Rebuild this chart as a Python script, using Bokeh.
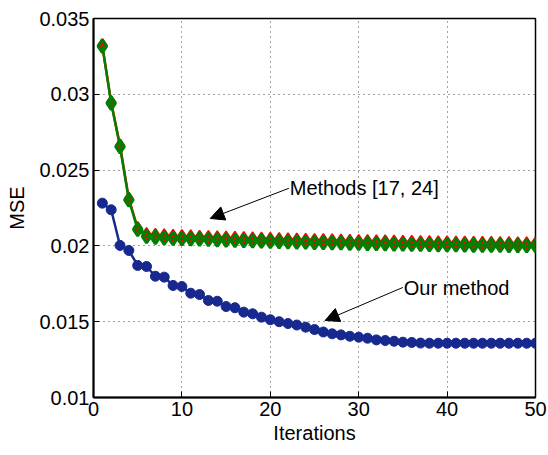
from bokeh.plotting import figure
from bokeh.models import FixedTicker, Arrow, NormalHead, Label, Range1d
from bokeh.embed import file_html
from bokeh.resources import INLINE

# Iteration index
iterations = list(range(1, 51))

# MSE of the proposed method
mse_ours = [0.02282, 0.02238, 0.02003, 0.01970, 0.01871, 0.01864, 0.01800, 0.01794, 0.01739, 0.01732,
            0.01688, 0.01679, 0.01640, 0.01635, 0.01600, 0.01592, 0.01563, 0.01552, 0.01530, 0.01513,
            0.01500, 0.01488, 0.01478, 0.01464, 0.01448, 0.01432, 0.01420, 0.01413, 0.01404, 0.01398,
            0.01391, 0.01380, 0.01376, 0.01371, 0.01365, 0.01363, 0.01359, 0.01358, 0.01358, 0.01358,
            0.01358, 0.01358, 0.01358, 0.01358, 0.01358, 0.01358, 0.01358, 0.01358, 0.01358, 0.01358]

# MSE of method [17]
mse_ref17 = [0.03322, 0.02948, 0.02662, 0.02311, 0.02117, 0.02078, 0.02072, 0.02069, 0.02066, 0.02064,
             0.02062, 0.02060, 0.02058, 0.02056, 0.02054, 0.02052, 0.02051, 0.02049, 0.02047, 0.02046,
             0.02044, 0.02043, 0.02041, 0.02040, 0.02038, 0.02037, 0.02036, 0.02035, 0.02033, 0.02032,
             0.02031, 0.02030, 0.02029, 0.02028, 0.02027, 0.02026, 0.02025, 0.02024, 0.02023, 0.02023,
             0.02022, 0.02021, 0.02020, 0.02020, 0.02019, 0.02018, 0.02018, 0.02017, 0.02017, 0.02016]

# MSE of method [24]
mse_ref24 = [0.03318, 0.02942, 0.02655, 0.02303, 0.02108, 0.02062, 0.02056, 0.02053, 0.02050, 0.02048,
             0.02046, 0.02044, 0.02042, 0.02040, 0.02038, 0.02036, 0.02035, 0.02033, 0.02031, 0.02030,
             0.02028, 0.02027, 0.02025, 0.02024, 0.02022, 0.02021, 0.02020, 0.02019, 0.02017, 0.02016,
             0.02015, 0.02014, 0.02013, 0.02012, 0.02011, 0.02010, 0.02009, 0.02008, 0.02007, 0.02007,
             0.02006, 0.02005, 0.02004, 0.02004, 0.02003, 0.02003, 0.02002, 0.02002, 0.02001, 0.02001]

x_ticks = [0, 10, 20, 30, 40, 50]
y_ticks = [0.01, 0.015, 0.02, 0.025, 0.03, 0.035]
y_tick_labels = ["0.01", "0.015", "0.02", "0.025", "0.03", "0.035"]

FONT = "Liberation Sans"
BLUE = "#17288e"
RED = "#ff0000"
GREEN = "#008000"

p = figure(width=548, height=455, output_backend="svg", toolbar_location=None,
           x_range=Range1d(0, 50), y_range=Range1d(0.01, 0.035),
           min_border_left=93, min_border_right=13, min_border_top=18, min_border_bottom=58,
           background_fill_color="white", border_fill_color="white")

p.outline_line_color = "black"
p.outline_line_width = 1.5
p.outline_line_alpha = 1.0

for ax in (p.xaxis, p.yaxis):
    ax.axis_line_width = 2
    ax.axis_line_color = "black"
    ax.major_tick_in = 6
    ax.major_tick_out = 0
    ax.minor_tick_in = 0
    ax.minor_tick_out = 0
    ax.major_label_text_font = FONT
    ax.major_label_text_font_size = "20px"
    ax.major_label_text_color = "black"
    ax.axis_label_text_font = FONT
    ax.axis_label_text_font_size = "20px"
    ax.axis_label_text_font_style = "normal"
    ax.axis_label_text_color = "black"

p.xaxis.ticker = FixedTicker(ticks=x_ticks)
p.yaxis.ticker = FixedTicker(ticks=y_ticks)
p.yaxis.major_label_overrides = {t: s for t, s in zip(y_ticks, y_tick_labels)}
p.xaxis.axis_label = "Iterations"
p.yaxis.axis_label = "MSE"
p.xaxis.major_label_standoff = 4
p.yaxis.major_label_standoff = 4
p.xaxis.axis_label_standoff = 3
p.yaxis.axis_label_standoff = 8

# dotted grid
for g in (p.xgrid, p.ygrid):
    g.grid_line_color = "#444444"
    g.grid_line_dash = "1 4"
    g.grid_line_width = 1
p.xgrid.ticker = FixedTicker(ticks=x_ticks)
p.ygrid.ticker = FixedTicker(ticks=y_ticks)

# series
p.line(iterations, mse_ref17, line_color=RED, line_width=2.5)
p.scatter(iterations, mse_ref17, marker="diamond", size=13, fill_color=RED, line_color=RED, line_width=1.5)
p.line(iterations, mse_ref24, line_color=GREEN, line_width=2.5)
p.scatter(iterations, mse_ref24, marker="diamond", size=13, fill_color=None, line_color=GREEN, line_width=3)
p.line(iterations, mse_ours, line_color=BLUE, line_width=2.5)
p.scatter(iterations, mse_ours, marker="circle", size=10, fill_color=BLUE, line_color=BLUE)

# annotations
methods_text = (22.2, 0.02385)
methods_arrow = (22.1, 0.02380, 13.2, 0.02181)
ours_text = (35.1, 0.01719)
ours_arrow = (35.0, 0.01726, 26.2, 0.01508)

for (tx, ty), (x0, y0, x1, y1), txt in ((methods_text, methods_arrow, "Methods [17, 24]"),
                                        (ours_text, ours_arrow, "Our method")):
    p.add_layout(Arrow(x_start=x0, y_start=y0, x_end=x1, y_end=y1, line_color="black", line_width=1,
                       end=NormalHead(size=14, fill_color="black", line_color="black")))
    p.add_layout(Label(x=tx, y=ty, text=txt, text_font=FONT, text_font_size="20px",
                       text_color="black", text_baseline="middle", text_align="left"))

open("out.html", "w").write(file_html(p, INLINE))
